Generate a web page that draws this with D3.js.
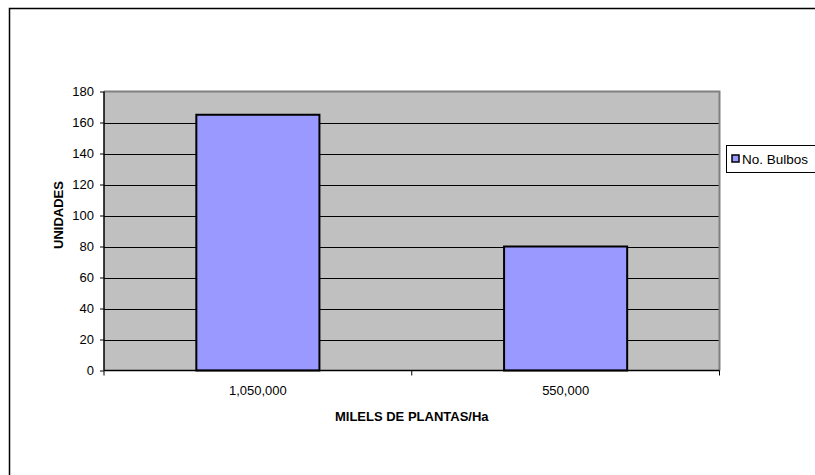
<!DOCTYPE html>
<html>
<head>
<meta charset="utf-8">
<script src="https://cdn.jsdelivr.net/npm/d3@7"></script>
<style>
  html, body { margin: 0; padding: 0; background: #fff; }
  svg { display: block; font-family: "Liberation Sans", Arial, sans-serif; }
</style>
</head>
<body>
<svg id="chart" width="815" height="475"></svg>
<script>
// Data
const categories = ["1,050,000", "550,000"];
const bulbos = [165, 80];
const yTicks = [0, 20, 40, 60, 80, 100, 120, 140, 160, 180];
const seriesName = "No. Bulbos";
const xTitle = "MILELS DE PLANTAS/Ha";
const yTitle = "UNIDADES";

const svg = d3.select("#chart");
const FONT = "Liberation Sans, Arial, sans-serif";

// Chart frame
svg.append("rect")
  .attr("x", 9.5).attr("y", 8.5)
  .attr("width", 900).attr("height", 600)
  .attr("fill", "#fff")
  .attr("stroke", "#000").attr("stroke-width", 1.5);

const plot = { left: 104, top: 91.5, right: 719.5, bottom: 370.5 };

const x = d3.scaleBand()
  .domain(categories)
  .range([plot.left, plot.right])
  .paddingInner(0).paddingOuter(0);

const y = d3.scaleLinear()
  .domain([0, 180])
  .range([plot.bottom, plot.top]);

// Plot background
svg.append("rect")
  .attr("x", plot.left).attr("y", plot.top)
  .attr("width", plot.right - plot.left)
  .attr("height", plot.bottom - plot.top)
  .attr("fill", "#C0C0C0");

// Gridlines
svg.append("g")
  .selectAll("line")
  .data(yTicks.filter(d => d > 0 && d < 180))
  .join("line")
  .attr("x1", plot.left).attr("x2", plot.right)
  .attr("y1", d => Math.round(y(d)) + 0.5)
  .attr("y2", d => Math.round(y(d)) + 0.5)
  .attr("stroke", "#000").attr("stroke-width", 1);

// Plot border (top/right grey)
svg.append("path")
  .attr("d", `M${plot.left},${plot.top}H${plot.right}V${plot.bottom}`)
  .attr("fill", "none")
  .attr("stroke", "#808080").attr("stroke-width", 2);

// Bars
const barW = x.bandwidth() * 0.4;
svg.append("g")
  .selectAll("rect")
  .data(bulbos)
  .join("rect")
  .attr("x", (d, i) => x(categories[i]) + (x.bandwidth() - barW) / 2)
  .attr("y", d => y(d))
  .attr("width", barW)
  .attr("height", d => y(0) - y(d))
  .attr("fill", "#9999FF")
  .attr("stroke", "#000").attr("stroke-width", 2);

// Y axis
const yAxis = d3.axisLeft(y)
  .tickValues(yTicks)
  .tickSize(4)
  .tickPadding(6)
  .tickFormat(d3.format("d"));
const gy = svg.append("g")
  .attr("transform", `translate(${plot.left},0)`)
  .call(yAxis);
gy.select(".domain").attr("stroke", "#000").attr("stroke-width", 1.5)
  .attr("d", `M0,${plot.top}V${plot.bottom}`);
gy.selectAll(".tick line").attr("stroke", "#000");
gy.selectAll(".tick text")
  .attr("font-size", 13).attr("fill", "#000")
  .attr("font-family", FONT);

// X axis
const xAxis = d3.axisBottom(x)
  .tickSize(0)
  .tickPadding(15);
const gx = svg.append("g")
  .attr("transform", `translate(0,${plot.bottom})`)
  .call(xAxis);
gx.select(".domain").attr("stroke", "#000").attr("stroke-width", 1.5)
  .attr("d", `M${plot.left},0H${plot.right}`);
gx.selectAll(".tick text")
  .attr("font-size", 13).attr("fill", "#000")
  .attr("font-family", FONT);

// Category separator ticks
const sepTicks = [plot.left, ...categories.map(c => x(c) + x.bandwidth())];
svg.append("g")
  .selectAll("line")
  .data(sepTicks)
  .join("line")
  .attr("x1", d => d).attr("x2", d => d)
  .attr("y1", plot.bottom).attr("y2", plot.bottom + 5)
  .attr("stroke", "#000").attr("stroke-width", 1);

// Axis titles
svg.append("text")
  .attr("x", (plot.left + plot.right) / 2)
  .attr("y", 421)
  .attr("text-anchor", "middle")
  .attr("font-size", 13).attr("font-weight", "bold")
  .attr("font-family", FONT)
  .text(xTitle);

svg.append("text")
  .attr("transform", "translate(63,215) rotate(-90)")
  .attr("text-anchor", "middle")
  .attr("font-size", 13).attr("font-weight", "bold")
  .attr("font-family", FONT)
  .text(yTitle);

// Legend
const lg = svg.append("g");
lg.append("rect")
  .attr("x", 726.5).attr("y", 145.5)
  .attr("width", 120).attr("height", 27)
  .attr("fill", "#fff").attr("stroke", "#000").attr("stroke-width", 1);
lg.append("rect")
  .attr("x", 732).attr("y", 155)
  .attr("width", 7).attr("height", 7)
  .attr("fill", "#9999FF").attr("stroke", "#000").attr("stroke-width", 1.5);
lg.append("text")
  .attr("x", 742).attr("y", 163.5)
  .attr("font-size", 13.5)
  .attr("font-family", FONT)
  .text(seriesName);
</script>
</body>
</html>
